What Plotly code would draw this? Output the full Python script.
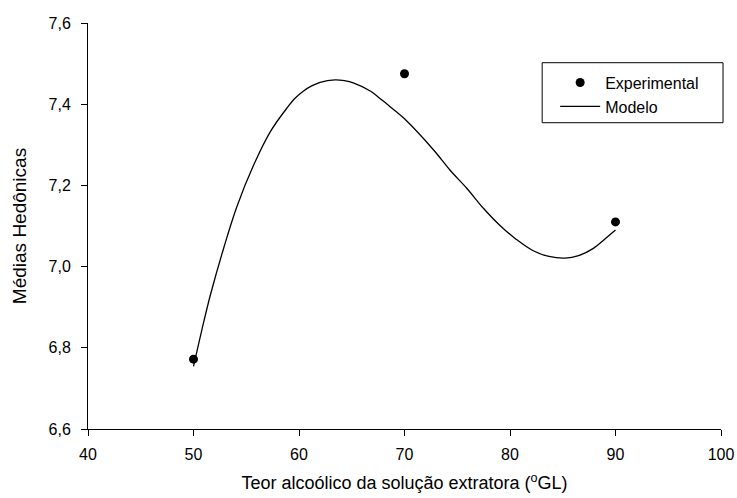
import plotly.graph_objects as go

# Experimental hedonic means by alcohol content of the extracting solution
teor_exp = [50, 70, 90]
media_exp = [6.772, 7.475, 7.11]

# Fitted model curve, sampled along the alcohol-content range
teor_modelo = [50.0, 50.8, 51.6, 52.9, 54.1, 55.7, 57.3, 58.9, 59.6, 60.4, 61.2, 62.0,
               63.4, 64.3, 65.2, 66.8, 67.5, 68.3, 69.2, 70.0, 72.8, 74.3, 75.9, 77.5,
               79.1, 80.6, 82.2, 83.7, 85.2, 86.5, 87.9, 89.0, 90.0]
media_modelo = [6.754, 6.845, 6.930, 7.049, 7.147, 7.250, 7.333, 7.392, 7.414, 7.432, 7.445, 7.454,
                7.460, 7.458, 7.452, 7.432, 7.418, 7.401, 7.382, 7.364, 7.286, 7.238, 7.193, 7.143,
                7.100, 7.067, 7.039, 7.025, 7.021, 7.027, 7.045, 7.068, 7.090]

x_ticks = [40, 50, 60, 70, 80, 90, 100]
y_ticks = [6.6, 6.8, 7.0, 7.2, 7.4, 7.6]

FONT = "Liberation Sans, Arial, sans-serif"

fig = go.Figure()
fig.add_trace(go.Scatter(
    x=teor_exp, y=media_exp, mode="markers", name="Experimental",
    marker=dict(color="black", size=9, line=dict(width=0)),
))
fig.add_trace(go.Scatter(
    x=teor_modelo, y=media_modelo, mode="lines", name="Modelo",
    line=dict(color="black", width=1.3, shape="spline", smoothing=1.0),
))

axis_common = dict(
    showgrid=False, zeroline=False, showline=True, linecolor="black", linewidth=1,
    ticks="outside", ticklen=6, tickwidth=1, tickcolor="black",
    tickfont=dict(family=FONT, size=16, color="black"),
    mirror=False,
)

fig.update_layout(
    width=737, height=498,
    margin=dict(l=87.5, r=16, t=23, b=69, autoexpand=False),
    paper_bgcolor="white", plot_bgcolor="white",
    separators=",.",
    font=dict(family=FONT, color="black"),
    xaxis=dict(
        range=[40, 100], tickvals=x_ticks, ticklabelstandoff=5,
        title=dict(text="Teor alcoólico da solução extratora (<sup>o</sup>GL)",
                   font=dict(family=FONT, size=18, color="black"), standoff=14),
        **axis_common,
    ),
    yaxis=dict(
        range=[6.6, 7.6], tickvals=y_ticks, tickformat=".1f", ticklabelstandoff=7,
        title=dict(text="Médias Hedônicas",
                   font=dict(family=FONT, size=19, color="black"), standoff=16),
        **axis_common,
    ),
    showlegend=True,
    legend=dict(
        x=0.738, y=0.895, xanchor="left", yanchor="top",
        bgcolor="rgba(0,0,0,0)", borderwidth=0,
        font=dict(family=FONT, size=16, color="black"),
        itemwidth=40, tracegroupgap=0,
    ),
    shapes=[dict(
        type="rect", xref="paper", yref="paper",
        x0=0.7175, x1=1.0032, y0=0.7544, y1=0.9022,
        line=dict(color="black", width=1), fillcolor="rgba(0,0,0,0)",
    )],
)

fig.write_html("out.html")
